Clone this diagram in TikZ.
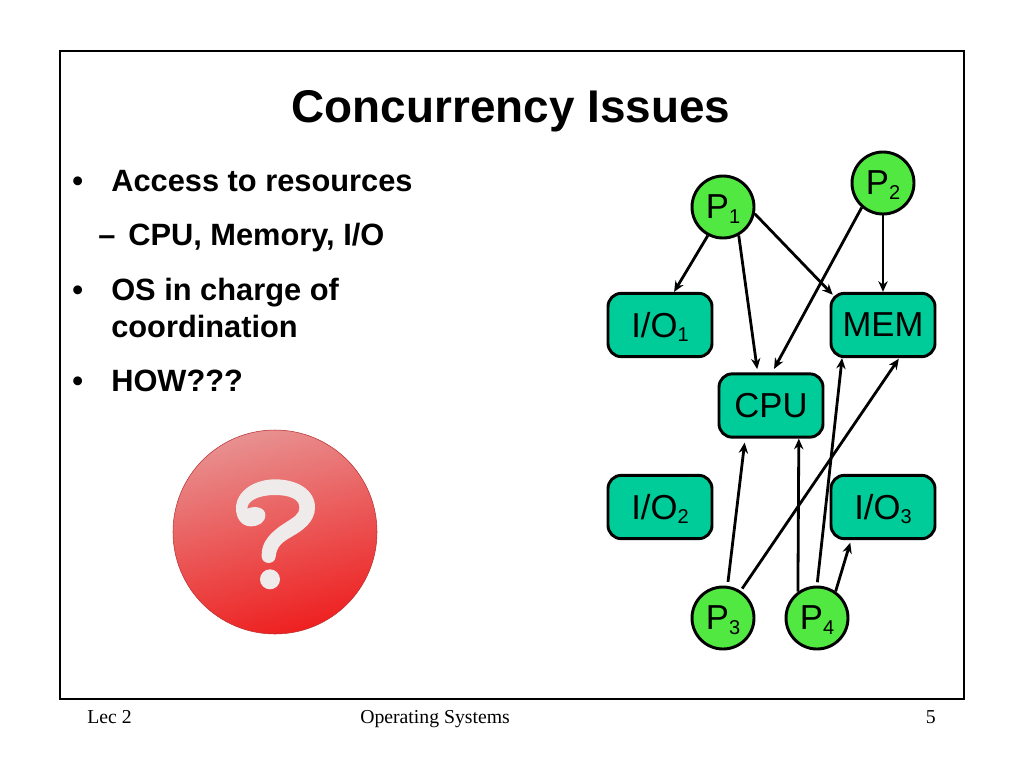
\documentclass[tikz,border=0pt]{standalone}
\usepackage{fontspec}
\setmainfont{Liberation Sans}
\newfontfamily\footfont{Liberation Serif}
\usetikzlibrary{arrows.meta,shapes.geometric}
\definecolor{boxteal}{HTML}{00CC99}
\definecolor{procgreen}{HTML}{52E842}
\definecolor{qmark}{HTML}{EFEBEB}
\definecolor{ballhi}{HTML}{E89090}
\definecolor{ballmid}{HTML}{E83E3E}
\definecolor{balllow}{HTML}{EE2020}
\newcommand{\lowsub}[1]{\smash{\raisebox{-0.12em}{\fontsize{15}{15}\selectfont #1}}}
\tikzset{
  proc/.style={circle,draw=black,line width=2.2pt,fill=procgreen,minimum size=46.5pt,inner sep=0pt,font=\fontsize{26}{26}\selectfont},
  res/.style={rectangle,rounded corners=10pt,draw=black,line width=2.2pt,fill=boxteal,minimum width=78pt,minimum height=47.5pt,inner sep=0pt,font=\fontsize{26}{26}\selectfont},
  link/.style={line width=2.1pt,-{Stealth[length=8pt,width=7pt]}},
  body/.style={anchor=base west,inner sep=0pt,font=\bfseries\fontsize{23.1}{23.1}\selectfont},
  foot/.style={inner sep=0pt,font=\footfont\fontsize{14.8}{14.8}\selectfont},
}
\begin{document}
\begin{tikzpicture}[x=0.75pt,y=-0.75pt]
\useasboundingbox (0,0) rectangle (1024,768);
\fill[white] (0,0) rectangle (1024,768);
\draw[black,line width=1.5pt] (60,51) rectangle (964,699);

\node[anchor=base,inner sep=0pt,font=\bfseries\fontsize{34.4}{34.4}\selectfont] (title) at (511,122) {Concurrency Issues};
\node[body] (b1m) at (72,191) {•};
\node[body] (b1) at (111,191) {Access to resources};
\node[body] (b2m) at (98,245) {–};
\node[body] (b2) at (128,245) {CPU, Memory, I/O};
\node[body] (b3m) at (72,300) {•};
\node[body] (b3) at (111,300) {OS in charge of};
\node[body] (b3b) at (111,337) {coordination};
\node[body] (b4m) at (72,391) {•};
\node[body] (b4) at (111,391) {HOW???};

\shade[top color=ballhi,middle color=ballmid,bottom color=balllow,shading angle=15,draw=ballmid!80!black,line width=0.4pt] (275,532) circle[radius=102];
\begin{scope}[shift={(160,420)},x=0.25pt,y=-0.25pt]
\fill[qmark] (345,178)
  .. controls (415,178) and (465,212) .. (465,262)
  .. controls (465,305) and (430,330) .. (395,350)
  .. controls (365,367) and (350,380) .. (347,410)
  .. controls (345,435) and (307,435) .. (305,410)
  .. controls (302,365) and (335,335) .. (370,312)
  .. controls (400,292) and (418,285) .. (418,262)
  .. controls (418,238) and (390,225) .. (345,225)
  .. controls (300,225) and (262,240) .. (262,266)
  .. controls (285,256) and (316,262) .. (316,285)
  .. controls (316,308) and (295,319) .. (272,319)
  .. controls (245,319) and (228,295) .. (228,265)
  .. controls (228,212) and (285,178) .. (345,178) -- cycle;
\fill[qmark] (330,478) circle[x radius=30,y radius=30];
\end{scope}

\node[proc] (p1) at (723,207) {P\lowsub{1}};
\node[proc] (p2) at (883,183) {P\lowsub{2}};
\node[proc] (p3) at (723,618) {P\lowsub{3}};
\node[proc] (p4) at (817,618) {P\lowsub{4}};
\node[res] (io1) at (660,325) {I/O\lowsub{1}};
\node[res] (mem) at (883,325) {MEM};
\node[res] (cpu) at (771,405.5) {CPU};
\node[res] (io2) at (660,507) {I/O\lowsub{2}};
\node[res] (io3) at (883,507) {I/O\lowsub{3}};

\draw[link] (p1.242) -- (io1.67);
\draw[link,shorten >=2.5pt] (p1.-61) -- (cpu.112);
\draw[link,shorten >=-3pt] (p1.-12) -- (mem.148);
\draw[link,shorten >=3pt] (p2.229) -- (cpu.88);
\draw[link] (p2.south) -- (mem.north);
\draw[link,shorten <=3pt,shorten >=3pt] (p3.82) -- (cpu.232);
\draw[link,shorten <=2pt,shorten >=0.5pt] (p3.57) -- (mem.-64);
\draw[link] (p4.126) -- (cpu.-50);
\draw[link,shorten <=2.5pt] (p4.north) -- (mem.219);
\draw[link,shorten >=2pt] (p4.55) -- (io3.226);

\node[foot,anchor=base west] (f1) at (87,723) {Lec 2};
\node[foot,anchor=base west] (f2) at (360,723) {Operating Systems};
\node[foot,anchor=base east] (f3) at (936,723) {5};
\end{tikzpicture}
\end{document}
